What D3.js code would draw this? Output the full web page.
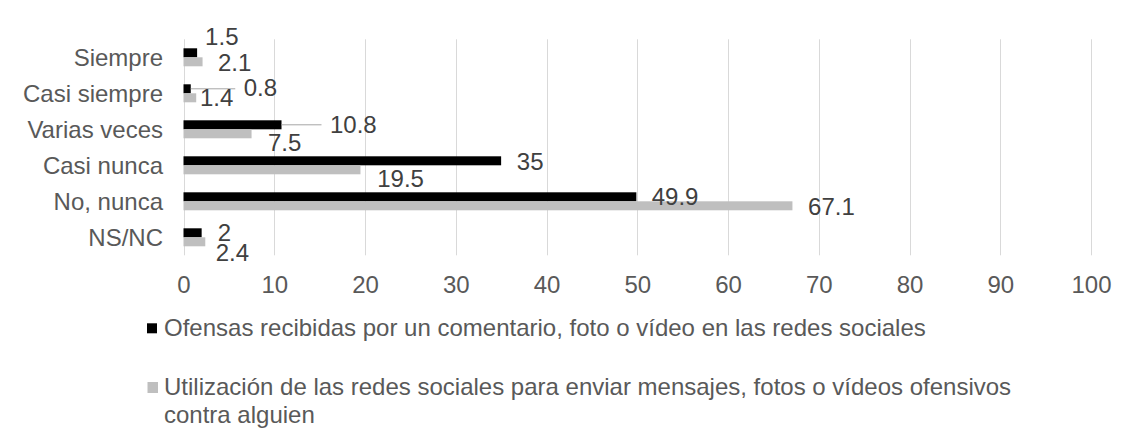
<!DOCTYPE html>
<html><head><meta charset="utf-8">
<script src="https://cdn.jsdelivr.net/npm/d3@7"></script>
<style>body{margin:0;background:#fff}svg{display:block}text{font-family:"Liberation Sans",Arial,Helvetica,sans-serif}</style>
</head><body>
<script>
const categories = ["Siempre","Casi siempre","Varias veces","Casi nunca","No, nunca","NS/NC"];
const ofensas = [1.5, 0.8, 10.8, 35, 49.9, 2];
const utilizacion = [2.1, 1.4, 7.5, 19.5, 67.1, 2.4];
const ticks = [0,10,20,30,40,50,60,70,80,90,100];
const seriesNames = ["Ofensas recibidas por un comentario, foto o vídeo en las redes sociales",
  ["Utilización de las redes sociales para enviar mensajes, fotos o vídeos ofensivos","contra alguien"]];

// label placement (offset from bar end / row centre), leader line flag
const lblOfensas = [[8,-12.3,0],[53,2.7,1],[48.5,3.7,1],[15.7,4.7,0],[15.4,3.7,0],[16,3.4,0]];
const lblUtil = [[15.4,13.4],[3.8,12.7],[16.4,21.4],[16.8,22],[15.6,13.7],[10.4,23.4]];

const W=1135,H=434;
const svg=d3.select("body").append("svg").attr("width",W).attr("height",H);
const x=d3.scaleLinear().domain([0,100]).range([183.5,1091]);
const y=d3.scaleBand().domain(categories).range([39.3,255.3]).padding(0);
const bh=9;
const fs=24;

// gridlines
svg.append("g").selectAll("line").data(ticks).join("line")
  .attr("x1",d=>Math.round(x(d))+0.5).attr("x2",d=>Math.round(x(d))+0.5)
  .attr("y1",y.range()[0]).attr("y2",y.range()[1])
  .attr("stroke","#d9d9d9").attr("stroke-width",1);

// x axis labels
const xa=svg.append("g").attr("transform",`translate(0,${y.range()[1]})`)
  .call(d3.axisBottom(x).tickValues(ticks).tickSize(0).tickPadding(0));
xa.select(".domain").remove();
xa.selectAll("text").attr("font-size",fs).attr("fill","#595959").attr("dy",null).attr("y",37.5)
  .style("font-family",'"Liberation Sans",Arial,sans-serif');

// y axis labels
const ya=svg.append("g").attr("transform",`translate(163,0)`)
  .call(d3.axisLeft(y).tickSize(0).tickPadding(0));
ya.select(".domain").remove();
ya.selectAll("text").attr("font-size",fs).attr("fill","#595959").attr("dy","0.35em")
  .style("font-family",'"Liberation Sans",Arial,sans-serif');

const c=i=>y(categories[i])+y.bandwidth()/2;

// bars
svg.append("g").selectAll("rect").data(ofensas).join("rect")
  .attr("x",x(0)).attr("y",(d,i)=>c(i)-bh).attr("width",d=>x(d)-x(0)).attr("height",bh).attr("fill","#000");
svg.append("g").selectAll("rect").data(utilizacion).join("rect")
  .attr("x",x(0)).attr("y",(d,i)=>c(i)).attr("width",d=>x(d)-x(0)).attr("height",bh).attr("fill","#bfbfbf");

// leader lines
svg.append("g").selectAll("line").data(ofensas.map((v,i)=>({v,i})).filter(d=>lblOfensas[d.i][2]))
  .join("line").attr("x1",d=>x(d.v)).attr("x2",d=>x(d.v)+lblOfensas[d.i][0]-8.5)
  .attr("y1",d=>c(d.i)-bh/2).attr("y2",d=>c(d.i)-bh/2).attr("stroke","#a6a6a6").attr("stroke-width",1);

// data labels
svg.append("g").selectAll("text").data(ofensas).join("text")
  .attr("x",(d,i)=>x(d)+lblOfensas[i][0]).attr("y",(d,i)=>c(i)+lblOfensas[i][1])
  .attr("font-size",fs).attr("fill","#404040").text(d=>d);
svg.append("g").selectAll("text").data(utilizacion).join("text")
  .attr("x",(d,i)=>x(d)+lblUtil[i][0]).attr("y",(d,i)=>c(i)+lblUtil[i][1])
  .attr("font-size",fs).attr("fill","#404040").text(d=>d);

// legend
const lg=svg.append("g");
lg.append("rect").attr("x",147).attr("y",323.3).attr("width",10).attr("height",10).attr("fill","#000");
lg.append("text").attr("x",164).attr("y",336).attr("font-size",fs).attr("fill","#595959").text(seriesNames[0]);
lg.append("rect").attr("x",147.5).attr("y",382).attr("width",10.5).attr("height",11).attr("fill","#bfbfbf");
const t2=lg.append("text").attr("x",164).attr("y",395).attr("font-size",fs).attr("fill","#595959");
seriesNames[1].forEach((s,i)=>t2.append("tspan").attr("x",164).attr("dy",i?28:0).text(s));
</script>
</body></html>
